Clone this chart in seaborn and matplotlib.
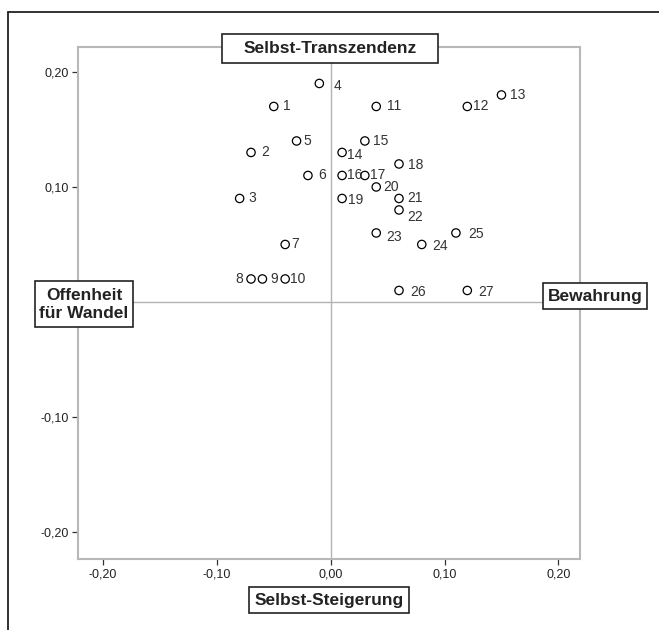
import matplotlib
matplotlib.use("Agg")
import matplotlib.pyplot as plt
from matplotlib.patches import Rectangle
from matplotlib.lines import Line2D
from matplotlib.ticker import FuncFormatter
import seaborn as sns
import pandas as pd

# Item coordinates on the two value dimensions
item_ids = [1, 2, 3, 4, 5, 6, 7, 8, 9, 10, 11, 12, 13, 14, 15, 16, 17, 18,
            19, 20, 21, 22, 23, 24, 25, 26, 27]
dim_x = [-0.05, -0.07, -0.08, -0.01, -0.03, -0.02, -0.04, -0.07, -0.06, -0.04,
         0.04, 0.12, 0.15, 0.01, 0.03, 0.01, 0.03, 0.06,
         0.01, 0.04, 0.06, 0.06, 0.04, 0.08, 0.11, 0.06, 0.12]
dim_y = [0.17, 0.13, 0.09, 0.19, 0.14, 0.11, 0.05, 0.02, 0.02, 0.02,
         0.17, 0.17, 0.18, 0.13, 0.14, 0.11, 0.11, 0.12,
         0.09, 0.10, 0.09, 0.08, 0.06, 0.05, 0.06, 0.01, 0.01]

x_tick_values = [-0.20, -0.10, 0.00, 0.10, 0.20]
y_tick_values = [-0.20, -0.10, 0.10, 0.20]
pole_top = "Selbst-Transzendenz"
pole_bottom = "Selbst-Steigerung"
pole_left = "Offenheit\nfür Wandel"
pole_right = "Bewahrung"

df = pd.DataFrame({"id": item_ids, "x": dim_x, "y": dim_y})

sns.set_style("white")
plt.rcParams["font.family"] = ["Liberation Sans", "DejaVu Sans"]

W, H = 659, 630
fig = plt.figure(figsize=(W / 100, H / 100), dpi=100)


def fx(px):
    return px / W


def fy(py):
    return 1 - py / H


ax = fig.add_axes([fx(78), fy(559), fx(580) - fx(78), fy(47) - fy(559)])

ax.axhline(0, color="#b3b3b3", lw=1.0, zorder=1)
ax.axvline(0, color="#b3b3b3", lw=1.0, zorder=1)

sns.scatterplot(data=df, x="x", y="y", ax=ax, marker="o", s=36,
                facecolors="none", edgecolor="black", linewidth=0.9,
                zorder=3, legend=False)

# label offsets in pixels (dx to label edge, dy downward)
offsets = {1: (9, 0), 2: (10, 0), 3: (9, 0), 4: (14, 3), 5: (7, 0),
           6: (10, 0), 7: (6, 0), 8: (-8, 0), 9: (8, 0), 10: (5, 0),
           11: (11, 0), 12: (6, 0), 13: (9, 0), 14: (5, 3), 15: (8, 0),
           16: (5, 0), 17: (5, 0), 18: (9, 1), 19: (6, 2), 20: (7, 0),
           21: (8, 0), 22: (8, 7), 23: (10, 4), 24: (10, 2), 25: (12, 1),
           26: (11, 2), 27: (11, 2)}
label_font = ["Liberation Sans Narrow", "DejaVu Sans Condensed",
              "Liberation Sans", "DejaVu Sans"]
for i, x, y in zip(item_ids, dim_x, dim_y):
    dx, dy = offsets[i]
    ax.annotate(str(i), (x, y), xytext=(dx * 0.72, -dy * 0.72),
                textcoords="offset points",
                ha="right" if dx < 0 else "left", va="center",
                fontsize=10, color="#333333", family=label_font)

ax.set_xlim(-0.222, 0.219)
ax.set_ylim(-0.2235, 0.2217)
ax.set_xticks(x_tick_values)
ax.set_yticks(y_tick_values)
fmt = FuncFormatter(lambda v, p: f"{v:.2f}".replace(".", ",").replace("-0,00", "0,00"))
ax.xaxis.set_major_formatter(fmt)
ax.yaxis.set_major_formatter(fmt)
ax.set_xlabel("")
ax.set_ylabel("")
ax.tick_params(axis="both", direction="out", length=4.5, width=0.9,
               color="#333333", labelsize=9, labelcolor="#222222", pad=2,
               bottom=True, left=True)
for sp in ax.spines.values():
    sp.set_color("#b8b8b8")
    sp.set_linewidth(1.5)

# outer frame (top and left edges)
fig.add_artist(Line2D([fx(8), 1.0], [fy(12), fy(12)], color="#222222", lw=1.3))
fig.add_artist(Line2D([fx(8), fx(8)], [fy(12), 0.0], color="#222222", lw=1.3))

# boxed pole labels
boxes = [(pole_top, 222, 34, 438, 63),
         (pole_bottom, 249, 587, 409, 613),
         (pole_left, 35, 281, 133, 327),
         (pole_right, 543, 283, 647, 309)]
for txt, x0, y0, x1, y1 in boxes:
    fig.add_artist(Rectangle((fx(x0), fy(y1)), fx(x1) - fx(x0), fy(y0) - fy(y1),
                             transform=fig.transFigure, facecolor="white",
                             edgecolor="#222222", lw=1.2, zorder=5))
    fig.text(fx((x0 + x1) / 2), fy((y0 + y1) / 2), txt, ha="center", va="center",
             fontsize=12.5, fontweight="bold", color="#222222",
             linespacing=1.25, zorder=6)

fig.savefig("out.png", dpi=100)
